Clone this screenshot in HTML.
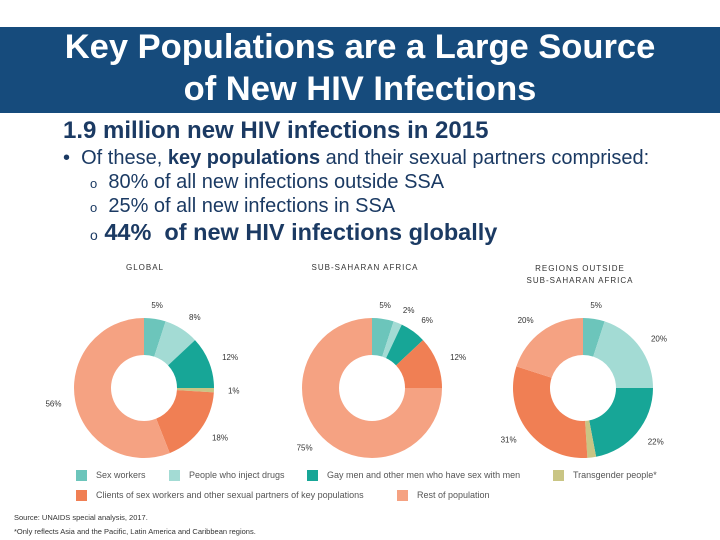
<!DOCTYPE html>
<html><head><meta charset="utf-8"><style>
body{margin:0;width:720px;height:540px;background:#fff;font-family:"Liberation Sans",sans-serif;position:relative;overflow:hidden}
.abs{position:absolute;white-space:nowrap}
#hdr{position:absolute;left:0;top:27px;width:720px;height:86px;background:#164b7c}
.t{color:#fff;font-weight:bold;font-size:34.5px;left:0;width:720px;text-align:center;line-height:40px}
.b{color:#1b3a63}
.lg{font-size:9px;color:#555}
.sq{position:absolute;width:11px;height:11px}
.ct{font-size:8px;color:#333;letter-spacing:1px;text-align:center}
</style></head><body>
<div id="hdr"></div>
<div class="abs t" style="top:27px">Key Populations are a Large Source</div>
<div class="abs t" style="top:69px">of New HIV Infections</div>
<div class="abs b" style="left:63px;top:117px;font-size:24px;line-height:28px;font-weight:bold">1.9 million new HIV infections in 2015</div>
<div class="abs b" style="left:63px;top:146px;font-size:20px;line-height:24px">•&nbsp; Of these, <b>key populations</b> and their sexual partners comprised:</div>
<div class="abs b" style="left:90px;top:170px;font-size:20px;line-height:24px"><span style="font-size:13px">o</span>&nbsp; 80% of all new infections outside SSA</div>
<div class="abs b" style="left:90px;top:194px;font-size:20px;line-height:24px"><span style="font-size:13px">o</span>&nbsp; 25% of all new infections in SSA</div>
<div class="abs b" style="left:90px;top:218px;font-size:23.5px;line-height:28px;font-weight:bold"><span style="font-size:14px;font-weight:normal">o</span> 44%&nbsp; of new HIV infections globally</div>
<div class="abs ct" style="left:100px;top:263px;width:90px">GLOBAL</div>
<div class="abs ct" style="left:290px;top:263px;width:150px">SUB-SAHARAN AFRICA</div>
<div class="abs ct" style="left:505px;top:263px;width:150px;line-height:12px">REGIONS OUTSIDE<br>SUB-SAHARAN AFRICA</div>
<svg id="charts" width="720" height="540" style="position:absolute;left:0;top:0"></svg>
<div class="sq" style="left:76px;top:470px;background:#6cc5bb"></div>
<div class="abs lg" style="left:96px;top:470px">Sex workers</div>
<div class="sq" style="left:169px;top:470px;background:#a3dbd4"></div>
<div class="abs lg" style="left:189px;top:470px">People who inject drugs</div>
<div class="sq" style="left:307px;top:470px;background:#17a697"></div>
<div class="abs lg" style="left:327px;top:470px">Gay men and other men who have sex with men</div>
<div class="sq" style="left:553px;top:470px;background:#c9c584"></div>
<div class="abs lg" style="left:573px;top:470px">Transgender people*</div>
<div class="sq" style="left:76px;top:490px;background:#f07f54"></div>
<div class="abs lg" style="left:96px;top:490px">Clients of sex workers and other sexual partners of key populations</div>
<div class="sq" style="left:397px;top:490px;background:#f5a282"></div>
<div class="abs lg" style="left:417px;top:490px">Rest of population</div>
<div class="abs" style="left:14px;top:513px;font-size:7.5px;color:#333">Source: UNAIDS special analysis, 2017.</div>
<div class="abs" style="left:14px;top:527px;font-size:7.5px;color:#333">*Only reflects Asia and the Pacific, Latin America and Caribbean regions.</div>
<script>
const colors=["#6cc5bb","#a3dbd4","#17a697","#c9c584","#f07f54","#f5a282"];
const globalVals=[5,8,12,1,18,56];
const ssaVals=[5,2,6,0,12,75];
const outsideVals=[5,20,22,2,31,20];
const outsideShowLabel=[true,true,true,false,true,true];
const chartNames=["global","ssa","outside"];
const svg=document.getElementById('charts');
const NS="http://www.w3.org/2000/svg";
function donut(vals,cx,cy,r,ri,name,show){
  const tot=vals.reduce((a,b)=>a+b,0);let a=0;
  vals.forEach((v,i)=>{
    if(v<=0)return;
    const a0=a/tot*2*Math.PI,a1=(a+v)/tot*2*Math.PI;a+=v;
    const p=(ang,rad)=>[cx+rad*Math.sin(ang),cy-rad*Math.cos(ang)];
    const [x0,y0]=p(a0,r),[x1,y1]=p(a1,r),[x2,y2]=p(a1,ri),[x3,y3]=p(a0,ri);
    const lg=(a1-a0)>Math.PI?1:0;
    const path=document.createElementNS(NS,'path');
    path.setAttribute('d',`M${x0},${y0}A${r},${r} 0 ${lg} 1 ${x1},${y1}L${x2},${y2}A${ri},${ri} 0 ${lg} 0 ${x3},${y3}Z`);
    path.setAttribute('fill',colors[i]);
    
    
    svg.appendChild(path);
    if(show && !show[i])return;
    const mid=(a0+a1)/2,[lx,ly]=p(mid,r+14);
    const t=document.createElementNS(NS,'text');
    t.setAttribute('x',lx);t.setAttribute('y',ly+3);
    t.setAttribute('text-anchor',Math.sin(mid)>0.3?'start':Math.sin(mid)<-0.3?'end':'middle');
    t.setAttribute('font-size','8');t.setAttribute('fill','#333');t.setAttribute('font-family','Liberation Sans, sans-serif');
    t.textContent=v+'%';
    
    
    svg.appendChild(t);
  });
}
donut(globalVals,144,388,70,33,chartNames[0]);
donut(ssaVals,372,388,70,33,chartNames[1]);
donut(outsideVals,583,388,70,33,chartNames[2],outsideShowLabel);
</script>
</body></html>
